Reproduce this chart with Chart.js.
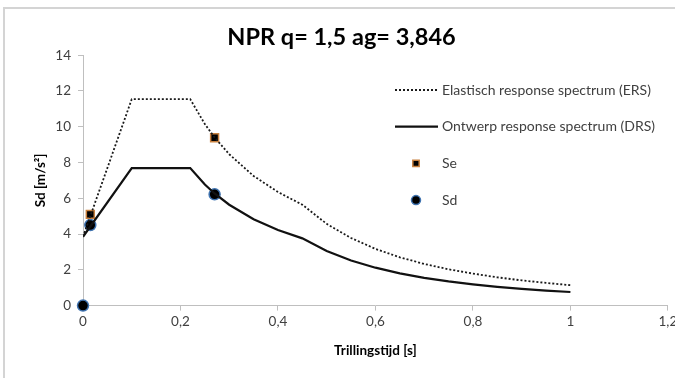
<!DOCTYPE html>
<html>
<head>
<meta charset="utf-8">
<script src="https://cdn.jsdelivr.net/npm/chart.js@4.4.1/dist/chart.umd.min.js"></script>
<style>
  body { margin: 0; background: #fff; }
  #wrap { position: relative; width: 675px; height: 378px; overflow: hidden; }
  #frame { position: absolute; left: 3px; top: 7px; width: 720px; height: 420px;
           border: 2px solid #d4d4d4; pointer-events: none; }
</style>
</head>
<body>
<div id="wrap">
  <canvas id="spectrumChart" width="675" height="378"></canvas>
  <div id="frame"></div>
</div>
<script>
// Trillingstijd T [s] voor de spectrum-lijnen
const periodT = [0, 0.1, 0.22, 0.25, 0.27, 0.3, 0.35, 0.4, 0.45, 0.5, 0.55, 0.6, 0.65, 0.7, 0.75, 0.8, 0.85, 0.9, 0.95, 1.0];
// Elastisch response spectrum (ERS)
const ersValues = [3.85, 11.54, 11.54, 10.15, 9.40, 8.46, 7.25, 6.35, 5.64, 4.57, 3.78, 3.17, 2.70, 2.33, 2.03, 1.79, 1.58, 1.41, 1.27, 1.14];
// Ontwerp response spectrum (DRS)
const drsValues = [3.85, 7.69, 7.69, 6.77, 6.27, 5.64, 4.83, 4.23, 3.76, 3.05, 2.52, 2.12, 1.80, 1.55, 1.35, 1.19, 1.05, 0.94, 0.84, 0.76];

// losse punten
const seT = [0.015, 0.27];
const seValues = [5.1, 9.38];
const sdT = [0, 0.015, 0.27];
const sdValues = [0, 4.5, 6.22];

const seriesNames = ['Elastisch response spectrum (ERS)', 'Ontwerp response spectrum (DRS)', 'Se', 'Sd'];
const xTicks = [0, 0.2, 0.4, 0.6, 0.8, 1, 1.2];
const yTicks = [0, 2, 4, 6, 8, 10, 12, 14];

const FONT = 'Lato, "Open Sans", sans-serif';

function toPoints(xs, ys) {
    return xs.map((x, i) => ({ x: x, y: ys[i] }));
}

// Legend drawn inside the plot, like the Excel original
const sideLegend = {
    id: 'sideLegend',
    afterDraw(chart) {
        const ctx = chart.ctx;
        const startY = 90;
        const step = 36.7;
        ctx.save();
        chart.data.datasets.forEach((ds, i) => {
            const y = startY + i * step;
            if (ds.showLine) {
                ctx.beginPath();
                ctx.setLineDash(ds.borderDash || []);
                ctx.lineWidth = ds.borderWidth;
                ctx.strokeStyle = ds.borderColor;
                ctx.moveTo(395, y);
                ctx.lineTo(438, y);
                ctx.stroke();
                ctx.setLineDash([]);
            } else {
                ctx.fillStyle = ds.pointBackgroundColor;
                ctx.strokeStyle = ds.pointBorderColor;
                ctx.lineWidth = ds.pointBorderWidth;
                Chart.helpers.drawPoint(ctx, {
                    pointStyle: ds.pointStyle,
                    radius: 4.5,
                    rotation: 0,
                    borderWidth: ds.pointBorderWidth
                }, 416, y);
            }
            ctx.fillStyle = '#404040';
            ctx.font = '14px ' + FONT;
            ctx.textBaseline = 'middle';
            ctx.textAlign = 'left';
            ctx.fillText(ds.label, 442, y);
        });
        ctx.restore();
    }
};

function commaLabel(v) {
    return String(Math.round(v * 10) / 10).replace('.', ',');
}

new Chart(document.getElementById('spectrumChart'), {
    type: 'scatter',
    data: {
        datasets: [
            {
                label: seriesNames[0],
                data: toPoints(periodT, ersValues),
                showLine: true,
                borderColor: '#1a1a1a',
                borderWidth: 1.8,
                borderDash: [2, 2],
                pointRadius: 0,
                tension: 0
            },
            {
                label: seriesNames[1],
                data: toPoints(periodT, drsValues),
                showLine: true,
                borderColor: '#111111',
                borderWidth: 2.2,
                pointRadius: 0,
                tension: 0
            },
            {
                label: seriesNames[2],
                data: toPoints(seT, seValues),
                showLine: false,
                clip: false,
                pointStyle: 'rect',
                pointRadius: 5.6,
                pointBackgroundColor: '#000000',
                pointBorderColor: '#c8803e',
                pointBorderWidth: 1.5
            },
            {
                label: seriesNames[3],
                data: toPoints(sdT, sdValues),
                showLine: false,
                clip: false,
                pointStyle: 'circle',
                pointRadius: 5.5,
                pointBackgroundColor: '#000000',
                pointBorderColor: '#3f73b0',
                pointBorderWidth: 1.5
            }
        ]
    },
    options: {
        responsive: false,
        animation: false,
        devicePixelRatio: 1,
        layout: { padding: { left: 10, right: 2, top: 0, bottom: 19 } },
        plugins: {
            legend: { display: false },
            tooltip: { enabled: false },
            title: {
                display: true,
                text: 'NPR q= 1,5 ag= 3,846',
                color: '#000000',
                font: { family: FONT, size: 23.5, weight: 'bold' },
                padding: { top: 23, bottom: 4 }
            }
        },
        scales: {
            x: {
                type: 'linear',
                min: 0,
                max: 1.2,
                afterBuildTicks(scale) { scale.ticks = xTicks.map(v => ({ value: v })); },
                afterFit(scale) { scale.paddingRight = 0; },
                ticks: {
                    color: '#404040',
                    font: { family: FONT, size: 13.5 },
                    padding: 3,
                    maxRotation: 0,
                    callback: v => commaLabel(v)
                },
                grid: { drawOnChartArea: false, tickLength: 5, color: '#bfbfbf' },
                border: { color: '#bfbfbf', width: 1 },
                title: {
                    display: true,
                    text: 'Trillingstijd [s]',
                    color: '#000000',
                    font: { family: FONT, size: 13.5, weight: 'bold' },
                    padding: { top: 10, bottom: 0 }
                }
            },
            y: {
                min: 0,
                max: 14,
                afterBuildTicks(scale) { scale.ticks = yTicks.map(v => ({ value: v })); },
                afterFit(scale) { scale.width = 73; },
                ticks: {
                    color: '#404040',
                    font: { family: FONT, size: 13.5 },
                    padding: 7
                },
                grid: { drawOnChartArea: false, tickLength: 5, color: '#bfbfbf' },
                border: { color: '#bfbfbf', width: 1 },
                title: {
                    display: true,
                    text: 'Sd [m/s²]',
                    color: '#000000',
                    font: { family: FONT, size: 13.5, weight: 'bold' },
                    padding: { top: 23, bottom: 0 }
                }
            }
        }
    },
    plugins: [sideLegend]
});
</script>
</body>
</html>
